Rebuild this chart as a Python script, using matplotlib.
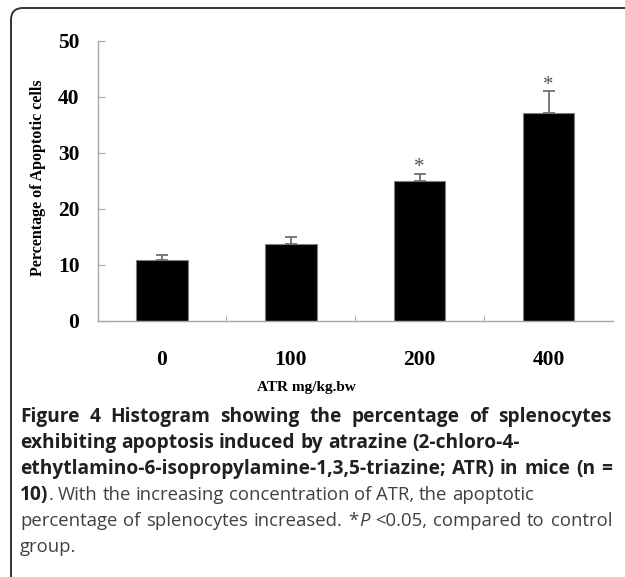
import numpy as np
import matplotlib
matplotlib.use('Agg')
import matplotlib.pyplot as plt
from matplotlib.patches import FancyBboxPatch
from matplotlib.transforms import IdentityTransform

# data
doses = ['0', '100', '200', '400']
means = [10.9, 13.7, 24.9, 37.2]
errs = [0.9, 1.3, 1.3, 3.8]
signif = ['', '', '*', '*']
yticks = [0, 10, 20, 30, 40, 50]

W, H = 625, 577
serif = 'Liberation Serif'
sans = 'Open Sans'

fig = plt.figure(figsize=(W / 100, H / 100), dpi=100)
ax = fig.add_axes([97.5 / W, 1 - 320.5 / H, (613 - 97.5) / W, (320.5 - 41) / H])

x = np.arange(len(doses))
ax.bar(x, means, width=0.4, color='black', edgecolor='#808080', linewidth=0.8, zorder=2)
ax.errorbar(x, means, yerr=[np.zeros(len(x)), errs], fmt='none', ecolor='#6e6e6e',
            elinewidth=1.3, capsize=4, capthick=1.3, zorder=3)
for xi, m, e, s in zip(x, means, errs, signif):
    if s:
        ax.text(xi, m + e - 0.6, s, ha='center', va='bottom', fontsize=15,
                family=serif, color='#555555')

ax.set_xlim(-0.5, 3.5)
ax.set_ylim(0, 50)
ax.set_yticks(yticks)
ax.set_xticks(x)
ax.set_xticklabels(doses)
ax.set_xticks([0.5, 1.5, 2.5], minor=True)
for sp in ['top', 'right']:
    ax.spines[sp].set_visible(False)
for sp in ['left', 'bottom']:
    ax.spines[sp].set_color('#a6a6a6')
    ax.spines[sp].set_linewidth(1)
ax.tick_params(axis='x', which='major', length=0, pad=21)
ax.tick_params(axis='x', which='minor', direction='in', length=4, color='#a6a6a6')
ax.tick_params(axis='y', direction='in', length=5, color='#a6a6a6', pad=13)
for lab in ax.get_xticklabels() + ax.get_yticklabels():
    lab.set_fontfamily(serif)
    lab.set_fontweight('bold')
    lab.set_fontsize(15.5)

fig.text(38 / W, 1 - 178 / H, 'Percentage of Apoptotic cells', rotation=90,
         ha='center', va='center', family=serif, fontweight='bold', fontsize=11.5)
fig.text(306 / W, 1 - 388 / H, 'ATR mg/kg.bw', ha='center', va='center',
         family=serif, fontweight='bold', fontsize=11)

# rounded frame around the figure panel
frame = FancyBboxPatch((11, -60), 700, H - 8 + 60, boxstyle='round,pad=0,rounding_size=12',
                       transform=IdentityTransform(), fill=False, edgecolor='#333333', linewidth=1.4)
fig.add_artist(frame)

# caption, drawn word by word so lines can be justified
renderer = fig.canvas.get_renderer()
bold = dict(fontweight='bold', color='#231f20', fontsize=13.8)
norm = dict(fontweight='normal', color='#404040', fontsize=13.3)
ital = dict(fontweight='normal', style='italic', color='#404040', fontsize=13.3)


def width(s, st):
    t = fig.text(0, 0, s, family=sans, **st)
    w = t.get_window_extent(renderer).width
    t.remove()
    return w


def draw_line(ypix, runs, justify=False, x0=20, x1=612):
    # split runs into words; a word can hold several styled pieces
    words = [[]]
    for txt, st in runs:
        parts = txt.split(' ')
        for i, p in enumerate(parts):
            if i > 0:
                words.append([])
            if p:
                words[-1].append((p, st))
    words = [w for w in words if w]
    ws = [sum(width(p, st) for p, st in w) for w in words]
    st0 = words[-1][-1][1]
    gap = width('x x', st0) - width('xx', st0)
    if justify and len(words) > 1:
        gap = (x1 - x0 - sum(ws)) / (len(words) - 1)
    xp = x0
    for w, wl in zip(words, ws):
        for p, st in w:
            fig.text(xp / W, 1 - ypix / H, p, family=sans,
                     va='baseline', ha='left', **st)
            xp += width(p, st)
        xp += gap


y0, dy = 422, 26
draw_line(y0, [('Figure 4 Histogram showing the percentage of splenocytes', bold)], True)
draw_line(y0 + dy, [('exhibiting apoptosis induced by atrazine (2-chloro-4-', bold)])
draw_line(y0 + 2 * dy, [('ethytlamino-6-isopropylamine-1,3,5-triazine; ATR) in mice (n =', bold)], True)
draw_line(y0 + 3 * dy, [('10)', bold), ('. With the increasing concentration of ATR, the apoptotic', norm)])
draw_line(y0 + 4 * dy, [('percentage of splenocytes increased. *', norm), ('P', ital),
                        (' <0.05, compared to control', norm)], True)
draw_line(y0 + 5 * dy, [('group.', norm)])

fig.savefig('out.png', dpi=100)
